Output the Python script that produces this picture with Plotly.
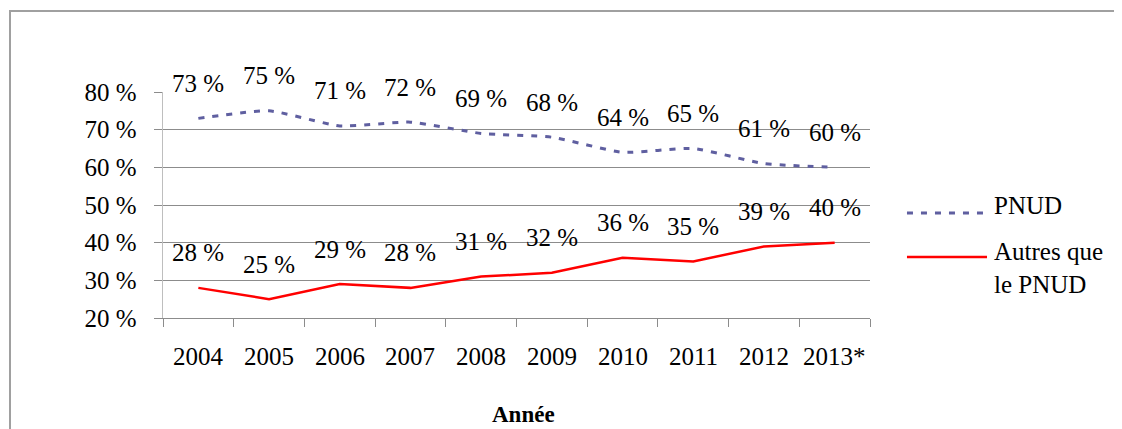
import plotly.graph_objects as go

# Data
years = ["2004", "2005", "2006", "2007", "2008", "2009", "2010", "2011", "2012", "2013*"]
pnud = [73, 75, 71, 72, 69, 68, 64, 65, 61, 60]
autres = [28, 25, 29, 28, 31, 32, 36, 35, 39, 40]
y_ticks = [20, 30, 40, 50, 60, 70, 80]

FONT = "Liberation Serif"
SIZE = 25
BLUE = "#5F5FA0"
RED = "#FF0000"
GRID = "#8C8C8C"

fig = go.Figure()

# PNUD - dashed, slightly smoothed like the Excel original
fig.add_trace(go.Scatter(
    x=years, y=pnud, mode="lines", name="PNUD",
    line=dict(color=BLUE, width=3, dash="6px,8px", shape="spline", smoothing=0.5),
    showlegend=False,
))
fig.add_trace(go.Scatter(
    x=years, y=autres, mode="lines", name="Autres que le PNUD",
    line=dict(color=RED, width=2.5),
    showlegend=False,
))

# data labels above each point (category axis -> annotations use the category index)
for series in (pnud, autres):
    for i, v in enumerate(series):
        fig.add_annotation(
            x=i, y=v, text=f"{v} %", showarrow=False, yshift=35,
            font=dict(family=FONT, size=SIZE, color="black"),
        )

# x tick labels, placed lower than plotly's default standoff
for i, yr in enumerate(years):
    fig.add_annotation(
        x=i, y=-0.17, yref="paper", text=yr, showarrow=False,
        yanchor="middle", font=dict(family=FONT, size=SIZE, color="black"),
    )

# hand-built legend (long line samples, wrapped text like the original)
fig.add_shape(type="line", xref="paper", yref="paper",
              x0=1.0523, x1=1.1655, y0=0.4646, y1=0.4646,
              line=dict(color=BLUE, width=3, dash="6px,8px"))
fig.add_shape(type="line", xref="paper", yref="paper",
              x0=1.0523, x1=1.1655, y0=0.2699, y1=0.2699,
              line=dict(color=RED, width=2.5))
fig.add_annotation(xref="paper", yref="paper", x=1.1726, y=0.50,
                   xanchor="left", yanchor="middle", showarrow=False,
                   text="PNUD", font=dict(family=FONT, size=SIZE, color="black"))
fig.add_annotation(xref="paper", yref="paper", x=1.1726, y=0.221,
                   xanchor="left", yanchor="middle", showarrow=False, align="left",
                   text="Autres que<br>le PNUD", font=dict(family=FONT, size=SIZE, color="black"))

# axis title
fig.add_annotation(xref="paper", yref="paper", x=0.5106, y=-0.429,
                   xanchor="center", yanchor="middle", showarrow=False,
                   text="<b>Année</b>", font=dict(family=FONT, size=23, color="black"))

# outer frame (cut off on the right and bottom in the original)
fig.add_shape(type="rect", xref="paper", yref="paper",
              x0=-0.2164, x1=1.6, y0=-1.0, y1=1.3584,
              line=dict(color="#A0A0A0", width=2), layer="below")

# margins compensate for the page's 8px body margin
fig.update_layout(
    width=1122, height=429,
    margin=dict(l=155, r=260, t=84, b=119, autoexpand=False),
    paper_bgcolor="white", plot_bgcolor="white",
    font=dict(family=FONT, size=SIZE, color="black"),
    xaxis=dict(
        type="category", categoryorder="array", categoryarray=years,
        range=[-0.5, len(years) - 0.5],
        showgrid=False, showticklabels=False,
        showline=True, linecolor=GRID, linewidth=1,
        ticks="outside", tickson="boundaries", ticklen=8, tickcolor=GRID,
    ),
    yaxis=dict(
        range=[20, 80], tickmode="array", tickvals=y_ticks,
        ticktext=[f"{t} %\u00a0\u00a0" for t in y_ticks],
        showgrid=True, gridcolor=GRID, gridwidth=1,
        showline=True, linecolor="#BEBEBE", linewidth=1,
        ticks="outside", ticklen=8, tickcolor=GRID, zeroline=False,
    ),
)

fig.write_html("out.html")
